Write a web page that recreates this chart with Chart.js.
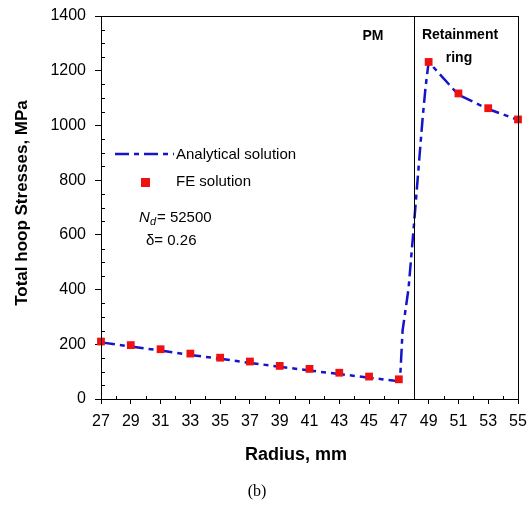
<!DOCTYPE html>
<html>
<head>
<meta charset="utf-8">
<script src="https://cdn.jsdelivr.net/npm/chart.js@4/dist/chart.umd.min.js"></script>
<style>
  html, body { margin: 0; padding: 0; background: #fff; }
  #wrap { width: 530px; height: 507px; position: relative; }
</style>
</head>
<body>
<div id="wrap"><canvas id="hoopChart"></canvas></div>
<script>
/* ── DATA ── */
const feRadius   = [27, 29, 31, 33, 35, 37, 39, 41, 43, 45, 47, 49, 51, 53, 55];
const feStress   = [210, 197, 182, 166, 151, 137, 121, 110, 96, 82, 72, 1232, 1117, 1063, 1022];

const anRadius   = [27, 29, 31, 33, 35, 37, 39, 41, 43, 45, 47, 47.1, 47.25, 47.65, 48, 48.35, 48.6, 48.8, 49, 51, 53, 55];
const anStress   = [207, 192, 177, 161, 147, 132, 118, 104, 91, 78, 65, 90, 250, 404, 628, 863, 1029, 1143, 1232, 1112, 1060, 1020];

const xTicks     = [27, 29, 31, 33, 35, 37, 39, 41, 43, 45, 47, 49, 51, 53, 55];
const yTicks     = [0, 200, 400, 600, 800, 1000, 1200, 1400];
const boundaryRadius = 48;

const BLUE = '#1414c8';
const RED  = '#ee1111';
const DASH = [14, 5, 5, 5];
const FONT = '"Liberation Sans", Arial, sans-serif';

/* ── DECORATION PLUGIN ── */
const decor = {
  id: 'decor',
  afterDraw(chart) {
    const { ctx, chartArea: a, scales: { x, y } } = chart;
    ctx.save();
    ctx.strokeStyle = '#000';
    ctx.lineWidth = 1;

    // frame
    ctx.strokeRect(a.left + 0.5, a.top + 0.5, a.right - a.left, a.bottom - a.top);

    // boundary PM / ring
    const bx = Math.round(x.getPixelForValue(boundaryRadius)) + 0.5;
    ctx.beginPath(); ctx.moveTo(bx, a.top); ctx.lineTo(bx, a.bottom); ctx.stroke();

    // minor ticks (inside)
    ctx.beginPath();
    for (let v = 28; v < 55; v += 2) {
      const px = Math.round(x.getPixelForValue(v)) + 0.5;
      ctx.moveTo(px, a.bottom); ctx.lineTo(px, a.bottom - 3);
    }
    for (let v = 50; v < 1400; v += 50) {
      if (v % 200 === 0) continue;
      const py = Math.round(y.getPixelForValue(v)) + 0.5;
      ctx.moveTo(a.left, py); ctx.lineTo(a.left + 4, py);
    }
    ctx.stroke();

    // axis titles
    ctx.fillStyle = '#000';
    ctx.font = 'bold 18px ' + FONT;
    ctx.textAlign = 'center'; ctx.textBaseline = 'middle';
    ctx.fillText('Radius, mm', 296, 455);
    ctx.save();
    ctx.translate(22, 203); ctx.rotate(-Math.PI / 2);
    ctx.font = 'bold 17px ' + FONT;
    ctx.fillText('Total hoop Stresses, MPa', 0, 0);
    ctx.restore();

    // caption
    ctx.font = '16px "Liberation Serif", "Times New Roman", serif';
    ctx.fillText('(b)', 257, 492);

    // region labels
    ctx.font = 'bold 14px ' + FONT;
    ctx.fillText('PM', 373, 36);
    ctx.fillText('Retainment', 460, 35);
    ctx.fillText('ring', 459, 58);

    // legend
    ctx.strokeStyle = BLUE; ctx.lineWidth = 2.5;
    ctx.setLineDash(DASH);
    ctx.beginPath(); ctx.moveTo(115, 154); ctx.lineTo(174, 154); ctx.stroke();
    ctx.setLineDash([]);
    ctx.fillStyle = RED;
    ctx.fillRect(141, 178, 9, 9);
    ctx.fillStyle = '#000';
    ctx.font = '15px ' + FONT;
    ctx.textAlign = 'left';
    ctx.fillText('Analytical solution', 176, 155);
    ctx.fillText('FE solution', 176, 182);

    // parameters
    ctx.font = 'italic 15px ' + FONT;
    ctx.fillText('N', 139, 218);
    ctx.font = 'italic 11px ' + FONT;
    ctx.fillText('d', 150, 222);
    ctx.font = '15px ' + FONT;
    ctx.fillText('= 52500', 157, 218);
    ctx.fillText('\u03B4= 0.26', 146, 241);
    ctx.restore();
  }
};

/* ── CHART ── */
new Chart(document.getElementById('hoopChart'), {
  type: 'scatter',
  data: {
    datasets: [
      {
        label: 'Analytical solution',
        data: anRadius.map((r, i) => ({ x: r, y: anStress[i] })),
        showLine: true, borderColor: BLUE, borderWidth: 2.5, borderDash: DASH,
        pointRadius: 0, tension: 0, order: 2, clip: false
      },
      {
        label: 'FE solution',
        data: feRadius.map((r, i) => ({ x: r, y: feStress[i] })),
        pointStyle: 'rect', pointRadius: 5.5, backgroundColor: RED, borderColor: RED,
        borderWidth: 0, order: 1, clip: false
      }
    ]
  },
  options: {
    responsive: true, maintainAspectRatio: false, animation: false,
    layout: { padding: { left: 0, right: 12, top: 16, bottom: 0 } },
    plugins: { legend: { display: false }, tooltip: { enabled: false } },
    scales: {
      x: {
        type: 'linear', min: 27, max: 55,
        afterBuildTicks: s => { s.ticks = xTicks.map(v => ({ value: v })); },
        afterFit: s => { s.height = 108; s.paddingLeft = 0; s.paddingRight = 0; },
        grid: { drawOnChartArea: false, tickLength: 5, color: '#000' },
        border: { color: '#000' },
        ticks: { color: '#000', font: { size: 16, family: FONT }, padding: 8, maxRotation: 0, autoSkip: false,
                 callback: v => String(v) }
      },
      y: {
        min: 0, max: 1400,
        afterBuildTicks: s => { s.ticks = yTicks.map(v => ({ value: v })); },
        afterFit: s => { s.width = 101; s.paddingTop = 0; s.paddingBottom = 0; },
        grid: { drawOnChartArea: false, tickLength: 6, color: '#000' },
        border: { color: '#000' },
        ticks: { color: '#000', font: { size: 16, family: FONT }, padding: 9,
                 callback: v => String(v) }
      }
    }
  },
  plugins: [decor]
});
</script>
</body>
</html>
